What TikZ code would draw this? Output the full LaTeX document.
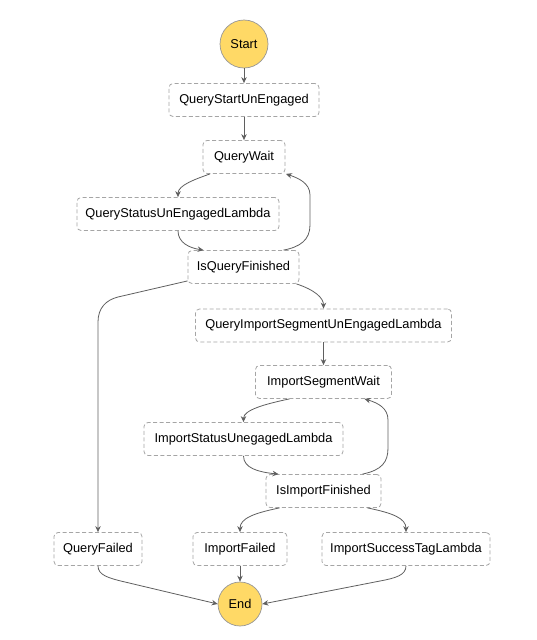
\documentclass[tikz,border=0pt]{standalone}
\usepackage{fontspec}
\setmainfont{Liberation Sans}
\usetikzlibrary{arrows.meta,calc}
\definecolor{boxgray}{RGB}{165,165,165}
\definecolor{edgegray}{RGB}{95,95,95}
\definecolor{termfill}{RGB}{255,217,102}
\definecolor{termline}{RGB}{150,150,150}
\begin{document}
\begin{tikzpicture}[x=1pt,y=-1pt,
  state/.style={draw=boxgray, line width=0.8pt, dash pattern=on 4pt off 2.5pt,
    rounded corners=4pt, fill=white, minimum height=33pt, inner sep=0pt,
    font=\fontsize{12.8}{15}\selectfont, text=black},
  terminal/.style={circle, draw=termline, fill=termfill, line width=0.7pt,
    inner sep=0pt, font=\fontsize{12.8}{15}\selectfont, text=black},
  flow/.style={draw=edgegray, line width=0.8pt,
    -{Stealth[length=6pt,width=5.5pt]}}]
\useasboundingbox (0,0) rectangle (536,640);

% terminal states
\node[terminal, minimum size=48pt] (start) at (244,44) {Start};
\node[terminal, minimum size=44pt] (end) at (240,604) {End};

% query phase
\node[state, minimum width=150pt] (qsu)  at (244,100)   {QueryStartUnEngaged};
\node[state, minimum width=82pt]  (qw)   at (244,157)   {QueryWait};
\node[state, minimum width=202pt] (qsul) at (178,214)   {QueryStatusUnEngagedLambda};
\node[state, minimum width=111pt] (iqf)  at (243.5,267) {IsQueryFinished};

% import phase
\node[state, minimum width=256pt] (qisl) at (323.5,325.5) {QueryImportSegmentUnEngagedLambda};
\node[state, minimum width=136pt] (isw)  at (323.5,382)   {ImportSegmentWait};
\node[state, minimum width=199pt] (isul) at (243.5,439)   {ImportStatusUnegagedLambda};
\node[state, minimum width=115pt] (iif)  at (323.5,491)   {IsImportFinished};

% final states
\node[state, minimum width=88pt]  (qf)  at (98,549)  {QueryFailed};
\node[state, minimum width=94pt]  (ifl) at (240,549) {ImportFailed};
\node[state, minimum width=168pt] (ist) at (406,549) {ImportSuccessTagLambda};

% transitions
\draw[flow] (start.south) -- (qsu.north);
\draw[flow] (qsu.south) -- (qw.north);
\draw[flow] ([xshift=-34pt]qw.south) .. controls (196,179) and (178,185) .. (qsul.north);
\draw[flow] (qsul.south) .. controls (178,243) and (190,248) .. ([xshift=-40pt]iqf.north);
\draw[flow] ([xshift=40pt]iqf.north) .. controls (300,247) and (310,240) .. (310,225)
  -- (310,195) .. controls (310,183) and (298,178) .. ([xshift=42pt]qw.south);
\draw[flow] ($(iqf.south east)+(-3,0)$) .. controls (315,290) and (323.5,298) .. (qisl.north);
\draw[flow] ($(iqf.south west)+(0,-3)$) -- (118,297) .. controls (106,300) and (98,308)
  .. (98,322) -- (qf.north);

\draw[flow] (qisl.south) -- (isw.north);
\draw[flow] ([xshift=-34pt]isw.south) .. controls (265,404) and (243.5,410) .. (isul.north);
\draw[flow] (isul.south) .. controls (243.5,468) and (258,472) .. ([xshift=-45pt]iif.north);
\draw[flow] ([xshift=39pt]iif.north) .. controls (382,470) and (388,462) .. (388,448)
  -- (388,420) .. controls (388,408) and (378,403) .. ([xshift=41pt]isw.south);
\draw[flow] ([xshift=-44pt]iif.south) .. controls (255,513) and (240,518) .. (ifl.north);
\draw[flow] ([xshift=44pt]iif.south) .. controls (392,513) and (406,518) .. (ist.north);

\draw[flow] (qf.south) .. controls (98,575) and (108,578) .. (125,582) -- (end.west);
\draw[flow] (ifl.south) -- (end.north);
\draw[flow] (ist.south) .. controls (406,575) and (396,578) .. (380,581) -- (end.east);
\end{tikzpicture}
\end{document}
